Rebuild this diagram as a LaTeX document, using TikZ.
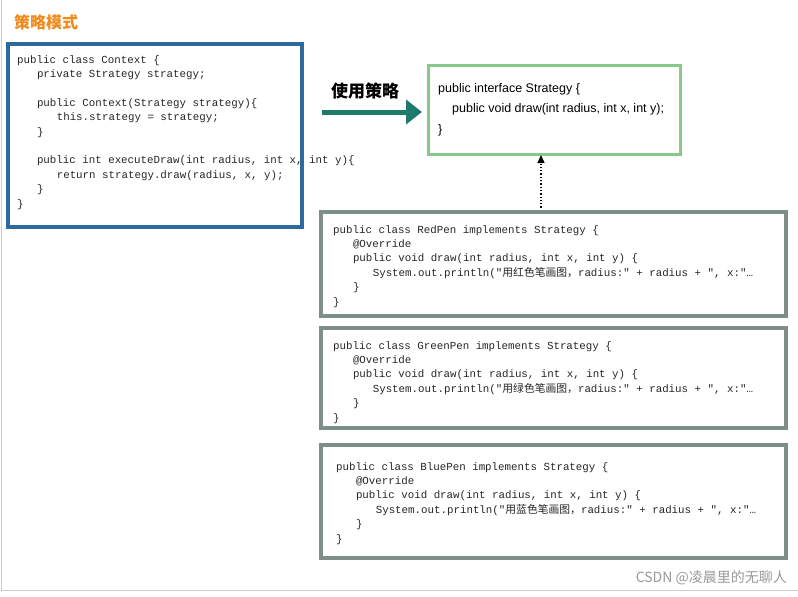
\documentclass[tikz,border=0pt]{standalone}
\usepackage{fontspec}
\setmainfont{Liberation Sans}
\newfontfamily\cjk{Noto Sans CJK SC}
\newfontfamily\codefont{Liberation Mono}
\usetikzlibrary{arrows.meta}
\definecolor{ctxblue}{HTML}{2F6A9E}
\definecolor{ifgreen}{HTML}{86C98A}
\definecolor{pengray}{HTML}{7E8F8B}
\definecolor{teal}{HTML}{1E7B6B}
\definecolor{orangeT}{HTML}{F08A1C}
\newcommand{\ind}{\hspace*{19.8pt}}
\begin{document}
\begin{tikzpicture}[x=1pt,y=-1pt,
  code/.style={anchor=north west,inner sep=0pt,align=left,text=black!85,font=\codefont\fontsize{10.8}{14.4}\selectfont},
  box/.style={line width=4pt}]
\useasboundingbox (0,0) rectangle (798,597);
\fill[white] (0,0) rectangle (798,597);
\draw[gray!40,line width=1pt] (1,0) -- (1,590) -- (798,590);
\node[anchor=west,inner sep=0pt,text=orangeT,font=\cjk\bfseries\fontsize{16}{18}\selectfont] (title) at (14,22) {策略模式};
% Context
\draw[box,ctxblue] (8,44) rectangle (302,227);
\node[code] (ctx) at (17,55) {public class Context \{\\
\ind private Strategy strategy;\\
\\
\ind public Context(Strategy strategy)\{\\
\ind\ind this.strategy = strategy;\\
\ind \}\\
\\
\ind public int executeDraw(int radius, int x, int y)\{\\
\ind\ind return strategy.draw(radius, x, y);\\
\ind \}\\
\}};
% interface
\draw[line width=3pt,ifgreen] (428,65) rectangle (680,154);
\node[anchor=north west,inner sep=0pt,align=left,font=\fontsize{12.5}{20.5}\selectfont] (iface) at (438,83) {public interface Strategy \{\\
\hspace*{14pt}public void draw(int radius, int x, int y);\\
\}};
\coordinate (ifb) at (541,155);
\coordinate (dotstart) at (541,211);
\draw[line width=1.3pt,dotted,-{Triangle[length=8pt,width=7pt]}] (dotstart) -- (ifb);
% use arrow
\node[inner sep=0pt,font=\cjk\bfseries\fontsize{17}{19}\selectfont] (use) at (365,91) {使用策略};
\coordinate (as) at (322,112);
\coordinate (ae) at (422,112);
\draw[teal,line width=5pt,-{Triangle[length=16pt,width=24pt]}] (as) -- (ae);
% pens
\draw[box,pengray] (321,212) rectangle (786,316);
\node[code] (red) at (333,225) {public class RedPen implements Strategy \{\\
\ind @Override\\
\ind public void draw(int radius, int x, int y) \{\\
\ind\ind System.out.println("{\cjk 用红色笔画图，}radius:" + radius + ", x:"…\\
\ind \}\\
\}};
\draw[box,pengray] (321,328) rectangle (786,428);
\node[code] (green) at (333,341) {public class GreenPen implements Strategy \{\\
\ind @Override\\
\ind public void draw(int radius, int x, int y) \{\\
\ind\ind System.out.println("{\cjk 用绿色笔画图，}radius:" + radius + ", x:"…\\
\ind \}\\
\}};
\draw[box,pengray] (321,445) rectangle (786,558);
\node[code] (blue) at (336,462) {public class BluePen implements Strategy \{\\
\ind @Override\\
\ind public void draw(int radius, int x, int y) \{\\
\ind\ind System.out.println("{\cjk 用蓝色笔画图，}radius:" + radius + ", x:"…\\
\ind \}\\
\}};
\node[anchor=east,inner sep=0pt,text=gray!80,font=\cjk\fontsize{14}{16}\selectfont] (wm) at (787,578) {CSDN @凌晨里的无聊人};
\end{tikzpicture}
\end{document}
